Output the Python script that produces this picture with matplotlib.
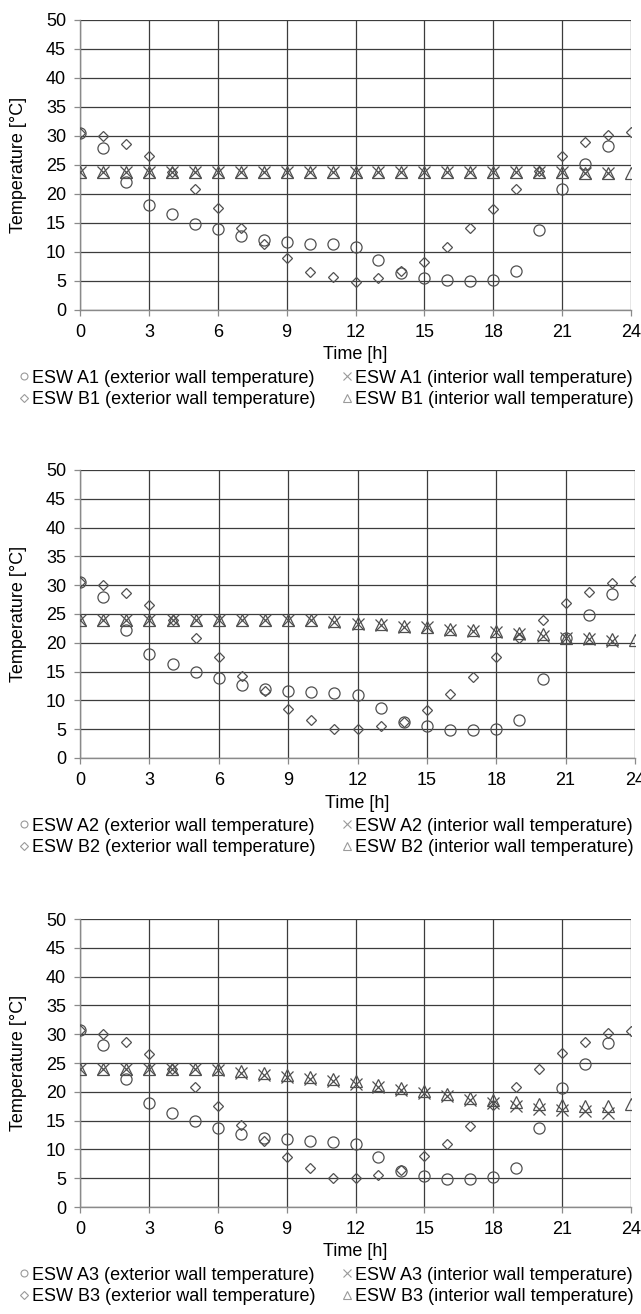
import matplotlib
matplotlib.use("Agg")
import matplotlib.pyplot as plt
from matplotlib.lines import Line2D

plt.rcParams['font.family'] = ['Liberation Sans', 'DejaVu Sans']

hours = list(range(25))
x_ticks = [0, 3, 6, 9, 12, 15, 18, 21, 24]
y_ticks = [0, 5, 10, 15, 20, 25, 30, 35, 40, 45, 50]

# panel 1
a1_ext = [30.6, 28.0, 22.1, 18.1, 16.5, 14.9, 13.9, 12.8, 12.1, 11.8, 11.3, 11.3,
          10.9, 8.6, 6.3, 5.5, 5.1, 5.0, 5.2, 6.8, 13.8, 20.8, 25.1, 28.3]
a1_int = [23.8, 23.8, 23.8, 23.8, 23.8, 23.8, 23.8, 23.8, 23.8, 23.8, 23.8, 23.8,
          23.8, 23.8, 23.8, 23.8, 23.8, 23.8, 23.8, 23.8, 23.8, 23.8, 23.7, 23.7]
b1_ext = [30.6, 30.0, 28.6, 26.6, 23.8, 20.9, 17.6, 14.2, 11.3, 8.9, 6.6, 5.7,
          4.9, 5.6, 6.8, 8.3, 10.9, 14.2, 17.4, 20.9, 24.0, 26.6, 28.9, 30.2, 30.7]
b1_int = [23.8, 23.8, 23.8, 23.8, 23.8, 23.8, 23.8, 23.8, 23.8, 23.8, 23.8, 23.8,
          23.8, 23.8, 23.8, 23.8, 23.8, 23.8, 23.8, 23.8, 23.8, 23.8, 23.7, 23.7, 23.6]

# panel 2
a2_ext = [30.6, 28.0, 22.3, 18.0, 16.4, 14.9, 13.9, 12.7, 12.0, 11.7, 11.4, 11.3,
          10.9, 8.6, 6.2, 5.5, 4.9, 4.9, 5.1, 6.6, 13.7, 20.8, 24.9, 28.4]
a2_int = [23.9, 23.9, 23.9, 23.9, 23.9, 23.9, 23.9, 23.9, 23.9, 23.9, 23.9, 23.6,
          23.3, 23.1, 22.8, 22.7, 22.3, 22.1, 21.8, 21.5, 21.2, 20.9, 20.6, 20.3]
b2_ext = [30.6, 30.1, 28.6, 26.6, 24.0, 20.9, 17.5, 14.3, 11.6, 8.5, 6.6, 5.1,
          5.1, 5.5, 6.2, 8.4, 11.1, 14.0, 17.5, 20.8, 24.0, 26.9, 28.8, 30.3, 30.8]
b2_int = [23.9, 23.9, 23.9, 23.9, 23.9, 24.0, 23.9, 23.9, 23.9, 23.9, 23.9, 23.7,
          23.4, 23.2, 22.9, 22.8, 22.4, 22.3, 22.0, 21.7, 21.6, 20.8, 20.8, 20.6, 20.5]

# panel 3
a3_ext = [30.7, 28.1, 22.2, 18.1, 16.3, 14.9, 13.8, 12.7, 12.0, 11.8, 11.4, 11.3,
          10.9, 8.7, 6.2, 5.4, 4.9, 4.9, 5.2, 6.7, 13.8, 20.7, 24.9, 28.4]
a3_int = [23.9, 23.9, 23.9, 23.9, 23.9, 23.9, 23.7, 23.3, 22.9, 22.6, 22.2, 21.8,
          21.4, 20.9, 20.3, 19.8, 19.2, 18.6, 18.0, 17.6, 17.1, 16.9, 16.6, 16.4]
b3_ext = [30.7, 30.1, 28.7, 26.6, 24.0, 20.9, 17.6, 14.3, 11.4, 8.6, 6.8, 5.1,
          5.1, 5.5, 6.5, 8.8, 11.0, 14.0, 17.7, 20.9, 23.9, 26.8, 28.7, 30.2, 30.6]
b3_int = [23.9, 23.9, 23.9, 23.9, 24.0, 23.9, 23.9, 23.6, 23.3, 23.0, 22.6, 22.2,
          21.8, 21.2, 20.6, 20.1, 19.6, 19.0, 18.5, 18.2, 17.8, 17.7, 17.6, 17.6, 17.8]

panels = [
    ("1", a1_ext, a1_int, b1_ext, b1_int),
    ("2", a2_ext, a2_int, b2_ext, b2_int),
    ("3", a3_ext, a3_int, b3_ext, b3_int),
]

W, H = 641, 1314
# pixel boxes: left, right, top, bottom
boxes = [(80, 631, 20, 310), (80, 635, 470, 758), (80, 631, 919, 1207)]

edge = '#505050'
fs = 13
fig = plt.figure(figsize=(W / 100, H / 100), dpi=100)

for (num, a_ext, a_int, b_ext, b_int), (l, r, t, b) in zip(panels, boxes):
    ax = fig.add_axes([l / W, 1 - b / H, (r - l) / W, (b - t) / H])

    ax.plot(hours[:len(a_ext)], a_ext, 'o', ms=8, mfc='none', mec=edge, mew=0.9, zorder=3)
    ax.plot(hours[:len(b_ext)], b_ext, 'D', ms=5.6, mfc='none', mec=edge, mew=0.9, zorder=3)
    ax.plot(hours[:len(a_int)], a_int, 'x', ms=8, mec=edge, mew=0.9, zorder=3)
    ax.plot(hours[:len(b_int)], b_int, '^', ms=8, mfc='none', mec=edge, mew=0.9, zorder=3)

    ax.set_xlim(0, 24)
    ax.set_ylim(0, 50)
    ax.set_xticks(x_ticks)
    ax.set_yticks(y_ticks)
    ax.grid(True, color='#3c3c3c', lw=0.9)
    ax.set_axisbelow(True)
    for s in ['top', 'right']:
        ax.spines[s].set_visible(False)
    for s in ['left', 'bottom']:
        ax.spines[s].set_color('#8a8a8a')
        ax.spines[s].set_linewidth(1.0)
    ax.tick_params(axis='both', direction='out', length=4, width=0.9, color='#8a8a8a',
                   labelsize=fs, pad=6)

    ax.set_ylabel('Temperature [°C]', fontsize=fs)
    ax.yaxis.set_label_coords((27 - l) / (r - l), 0.5)
    ax.set_xlabel('Time [h]', fontsize=fs)
    ax.xaxis.set_label_coords(0.5, -45 / (b - t))
    ax.xaxis.label.set_verticalalignment('center')

    handles = [
        Line2D([], [], ls='none', marker='o', ms=5, mfc='none', mec='#9a9a9a', mew=0.8),
        Line2D([], [], ls='none', marker='D', ms=3.6, mfc='none', mec='#9a9a9a', mew=0.8),
        Line2D([], [], ls='none', marker='x', ms=6, mec='#9a9a9a', mew=0.8),
        Line2D([], [], ls='none', marker='^', ms=6, mfc='none', mec='#9a9a9a', mew=0.8),
    ]
    labels = [
        f'ESW A{num} (exterior wall temperature)',
        f'ESW B{num} (exterior wall temperature)',
        f'ESW A{num} (interior wall temperature)',
        f'ESW B{num} (interior wall temperature)',
    ]
    ax.legend(handles, labels, ncol=2, loc='center',
              bbox_to_anchor=(0.508, 1 - (b + 79) / H), bbox_transform=fig.transFigure,
              frameon=False, fontsize=fs, handlelength=0.7, handletextpad=0.1,
              columnspacing=1.4, labelspacing=0.25, borderpad=0, borderaxespad=0)

fig.savefig('out.png', dpi=100)
